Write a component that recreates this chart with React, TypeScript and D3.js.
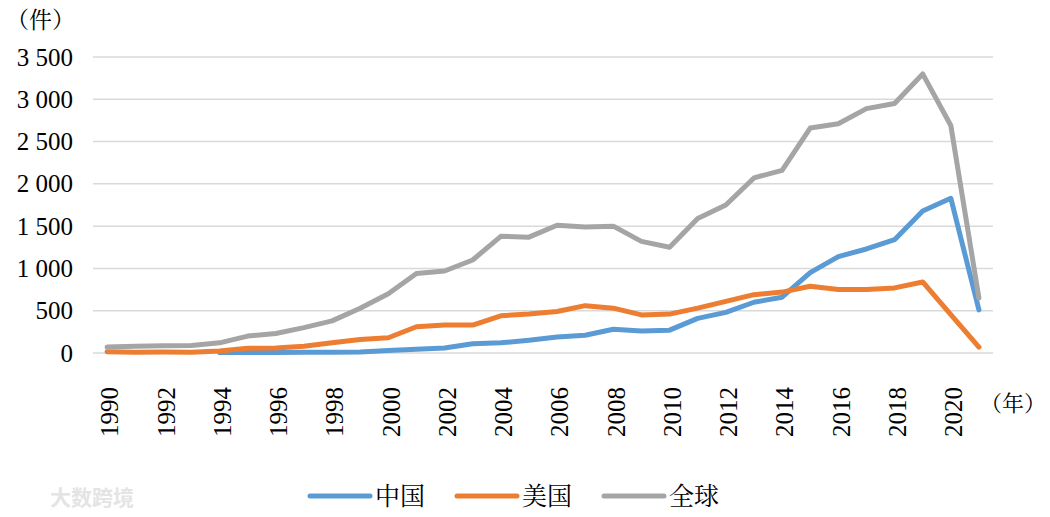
import * as d3 from 'd3'

const years = d3.range(1990, 2022).map(String)
const tickYears = years.filter((_, i) => i % 2 === 0)
const yTicks = [0, 500, 1000, 1500, 2000, 2500, 3000, 3500]

const china: (number | null)[] = [
  null, null, null, null, 5, 5, 5, 8, 10, 12,
  30, 45, 60, 110, 120, 150, 190, 210, 280, 260,
  270, 410, 480, 600, 660, 950, 1140, 1230, 1340, 1680,
  1830, 510,
]
const usa = [
  15, 10, 12, 10, 25, 55, 60, 80, 120, 160,
  180, 310, 330, 330, 440, 460, 490, 560, 530, 450,
  460, 530, 610, 690, 720, 790, 750, 750, 770, 840,
  455, 70,
]
const world = [
  70, 80, 85, 90, 120, 200, 230, 300, 380, 530,
  700, 940, 970, 1100, 1380, 1370, 1510, 1490, 1500, 1320,
  1250, 1590, 1750, 2070, 2160, 2660, 2710, 2890, 2950, 3300,
  2690, 650,
]

const seriesNames = ['中国', '美国', '全球']
const seriesColors = ['#5B9BD5', '#ED7D31', '#A5A5A5']

const latin = "'Liberation Serif'"
const cjk = "'Noto Serif CJK SC'"

const width = 1050
const height = 517
const left = 93
const right = 993
const top = 57
const bottom = 353

export default function App() {
  const x = d3.scaleBand().domain(years).range([left, right])
  const y = d3.scaleLinear().domain([0, 3500]).range([bottom, top])
  const cx = (yr: string) => (x(yr) || 0) + x.bandwidth() / 2

  const line = d3.line<number | null>()
    .defined(d => d !== null)
    .x((_, i) => cx(years[i]))
    .y(d => y(d as number))

  const legendX = [310, 457, 604]

  return (
    <svg
      width={width}
      height={height}
      style={{ position: 'absolute', left: 0, top: 0, background: '#fff' }}
    >
      {/* gridlines */}
      {yTicks.map(t => (
        <line key={t} x1={left} x2={right} y1={y(t)} y2={y(t)} stroke="#d9d9d9" strokeWidth={1.5} />
      ))}

      {/* y labels */}
      {yTicks.map(t => (
        <text key={t} x={73} y={y(t)} dy="0.34em" textAnchor="end"
          style={{ fontFamily: latin, fontSize: '25px' }}>
          {d3.format(',')(t).replace(/,/g, ' ')}
        </text>
      ))}
      <text x={6} y={28} style={{ fontFamily: cjk, fontSize: '23px' }}>（件）</text>

      {/* x labels */}
      {tickYears.map(yr => (
        <text key={yr} transform={`translate(${cx(yr)},387) rotate(-90)`} dy="0.45em" textAnchor="end"
          style={{ fontFamily: latin, fontSize: '25px' }}>
          {yr}
        </text>
      ))}
      <text x={1046} y={411} textAnchor="end" style={{ fontFamily: cjk, fontSize: '22px' }}>（年）</text>

      {/* series */}
      {[china, usa, world].map((s, i) => (
        <path key={i} d={line(s) || ''} fill="none" stroke={seriesColors[i]} strokeWidth={5}
          strokeLinejoin="round" strokeLinecap="round" />
      ))}

      {/* legend */}
      {seriesNames.map((name, i) => (
        <g key={name}>
          <line x1={legendX[i]} x2={legendX[i] + 60} y1={496} y2={496}
            stroke={seriesColors[i]} strokeWidth={5} strokeLinecap="round" />
          <text x={legendX[i] + 65} y={496} dy="0.36em" style={{ fontFamily: cjk, fontSize: '25px' }}>
            {name}
          </text>
        </g>
      ))}

      {/* watermark */}
      <text x={50} y={497} dy="0.36em" fill="#e4e4e4"
        style={{ fontFamily: "'Noto Sans CJK SC'", fontSize: '21px', fontWeight: 700 }}>
        大数跨境
      </text>
    </svg>
  )
}
